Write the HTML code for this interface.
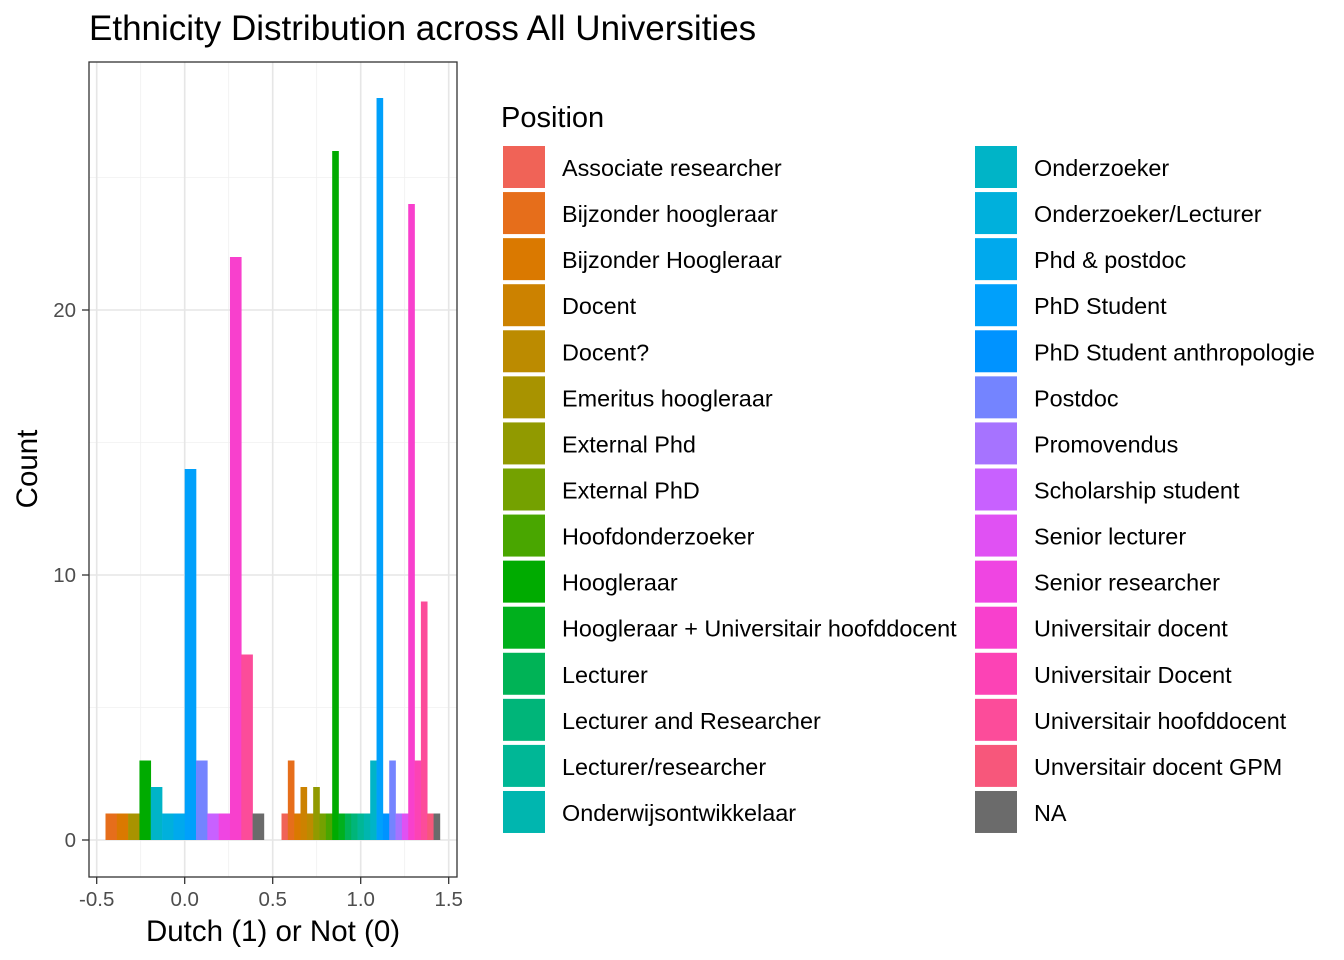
<!DOCTYPE html>
<html><head><meta charset="utf-8">
<style>
body{margin:0;background:#fff;}
svg{display:block;font-family:"Liberation Sans",Arial,sans-serif;}
</style></head>
<body>
<svg id="chart" width="1344" height="960" viewBox="0 0 1344 960">
<text x="89" y="40" font-size="35" fill="#000">Ethnicity Distribution across All Universities</text>
<g id="grid"></g>
<g id="bars"></g>
<rect x="89" y="62" width="368" height="815" fill="none" stroke="#333" stroke-width="1.3"/>
<g id="axes"></g>
<text x="273" y="941" font-size="29.5" text-anchor="middle" fill="#000">Dutch (1) or Not (0)</text>
<text transform="translate(37,469) rotate(-90)" font-size="29.5" text-anchor="middle" fill="#000">Count</text>
<text x="501" y="127" font-size="29" fill="#000">Position</text>
<g id="legend"></g>
</svg>
<script>
const levels = ["Associate researcher","Bijzonder hoogleraar","Bijzonder Hoogleraar","Docent","Docent?","Emeritus hoogleraar","External Phd","External PhD","Hoofdonderzoeker","Hoogleraar","Hoogleraar + Universitair hoofddocent","Lecturer","Lecturer and Researcher","Lecturer/researcher","Onderwijsontwikkelaar","Onderzoeker","Onderzoeker/Lecturer","Phd & postdoc","PhD Student","PhD Student anthropologie","Postdoc","Promovendus","Scholarship student","Senior lecturer","Senior researcher","Universitair docent","Universitair Docent","Universitair hoofddocent","Unversitair docent GPM","NA"];
// group x = 0 (Not Dutch)
const group0Levels = ["Bijzonder hoogleraar","Bijzonder Hoogleraar","Emeritus hoogleraar","Hoogleraar","Onderzoeker","Onderzoeker/Lecturer","Phd & postdoc","PhD Student","Postdoc","Scholarship student","Senior researcher","Universitair docent","Universitair hoofddocent","NA"];
const group0Counts = [1,1,1,3,2,1,1,14,3,1,1,22,7,1];
// group x = 1 (Dutch)
const group1Levels = ["Associate researcher","Bijzonder hoogleraar","Bijzonder Hoogleraar","Docent","Docent?","External Phd","External PhD","Hoofdonderzoeker","Hoogleraar","Hoogleraar + Universitair hoofddocent","Lecturer","Lecturer and Researcher","Lecturer/researcher","Onderwijsontwikkelaar","Onderzoeker","PhD Student","PhD Student anthropologie","Postdoc","Promovendus","Senior lecturer","Universitair docent","Universitair Docent","Universitair hoofddocent","Unversitair docent GPM","NA"];
const group1Counts = [1,3,1,2,1,2,1,1,26,1,1,1,1,1,3,28,1,3,1,1,24,3,9,1,1];
const xTicks = [-0.5,0,0.5,1,1.5];
const xTickLabels = ["-0.5","0.0","0.5","1.0","1.5"];
const yTicks = [0,10,20];
const yTickLabels = ["0","10","20"];

const NS="http://www.w3.org/2000/svg";
const X0=184.7, XU=176, Y0=840, YU=26.5;
const xs=v=>X0+v*XU, ys=v=>Y0-v*YU;
function mk(tag,attrs,parent){const e=document.createElementNS(NS,tag);for(const k in attrs)e.setAttribute(k,attrs[k]);parent.appendChild(e);return e;}

function hcl(h,c,l){
  const hr=h*Math.PI/180, U=c*Math.cos(hr), V=c*Math.sin(hr);
  const Xn=95.047,Yn=100,Zn=108.883;
  const un=4*Xn/(Xn+15*Yn+3*Zn), vn=9*Yn/(Xn+15*Yn+3*Zn);
  const Y = l>8 ? Yn*Math.pow((l+16)/116,3) : Yn*l/903.3;
  const u=U/(13*l)+un, v=V/(13*l)+vn;
  const X=9*Y*u/(4*v), Z=-X/3-5*Y+3*Y/v;
  const x=X/100,y=Y/100,z=Z/100;
  let r=3.2404542*x-1.5371385*y-0.4985314*z, g=-0.9692660*x+1.8760108*y+0.0415560*z, b=0.0556434*x-0.2040259*y+1.0572252*z;
  const gam=t=>{t=t<=0.0031308?12.92*t:1.055*Math.pow(t,1/2.4)-0.055;return Math.round(Math.max(0,Math.min(1,t))*255);};
  return "rgb("+gam(r)+","+gam(g)+","+gam(b)+")";
}
const nCol=levels.length-1;
function colorOf(name){ if(name==="NA")return "#6b6b6b"; const i=levels.indexOf(name); return hcl(15+i*360/nCol,112,60);}

// grid
const grid=document.getElementById("grid");
mk("rect",{x:89,y:62,width:368,height:815,fill:"#fff"},grid);
[5,15,25].forEach(v=>{const l=mk("line",{x1:89,x2:457,y1:ys(v),y2:ys(v),stroke:"#f0f0f0","stroke-width":0.8},grid);});
[-0.25,0.25,0.75,1.25].forEach(v=>{const l=mk("line",{x1:xs(v),x2:xs(v),y1:62,y2:877,stroke:"#f0f0f0","stroke-width":0.8},grid);});
yTicks.forEach(v=>{const l=mk("line",{x1:89,x2:457,y1:ys(v),y2:ys(v),stroke:"#e6e6e6","stroke-width":1.6},grid);});
xTicks.forEach(v=>{const l=mk("line",{x1:xs(v),x2:xs(v),y1:62,y2:877,stroke:"#e6e6e6","stroke-width":1.6},grid);});

// bars
const bars=document.getElementById("bars");
function drawGroup(center,lv,cnt){
  const n=lv.length, w=0.9*XU/n, left=xs(center)-0.45*XU;
  lv.forEach((name,i)=>{
    const r=mk("rect",{x:left+i*w,y:ys(cnt[i]),width:w+0.3,height:ys(0)-ys(cnt[i]),fill:colorOf(name)},bars);
    
    
  });
}
drawGroup(0,group0Levels,group0Counts);
drawGroup(1,group1Levels,group1Counts);

// axes
const axes=document.getElementById("axes");
xTicks.forEach((v,i)=>{
  const t=mk("line",{x1:xs(v),x2:xs(v),y1:877,y2:884,stroke:"#333","stroke-width":1.3},axes);
  
  const tx=mk("text",{x:xs(v),y:906,"font-size":20.5,"text-anchor":"middle",fill:"#4d4d4d"},axes);
  tx.textContent=xTickLabels[i];
  
});
yTicks.forEach((v,i)=>{
  const t=mk("line",{x1:82,x2:89,y1:ys(v),y2:ys(v),stroke:"#333","stroke-width":1.3},axes);
  
  const tx=mk("text",{x:76,y:ys(v)+7,"font-size":20.5,"text-anchor":"end",fill:"#4d4d4d"},axes);
  tx.textContent=yTickLabels[i];
  
});

// legend
const lg=document.getElementById("legend");
levels.forEach((name,i)=>{
  const col=i<15?0:1, row=i%15;
  const kx=col?975:503, ty=146+row*46.07;
  const g=mk("g",{},lg);
  
  mk("rect",{x:kx,y:ty,width:42,height:42,fill:colorOf(name)},g);
  const t=mk("text",{x:kx+59,y:ty+30,"font-size":23.4,fill:"#000"},g);
  t.textContent=name;
});
</script>
</body></html>
